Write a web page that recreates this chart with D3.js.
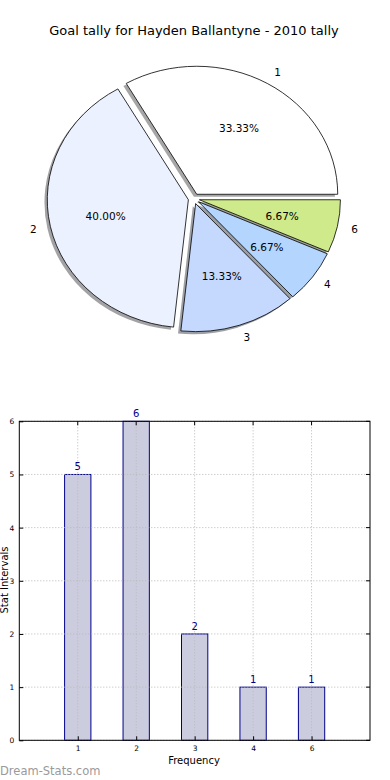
<!DOCTYPE html>
<html><head><meta charset="utf-8">
<script src="https://cdn.jsdelivr.net/npm/d3@7"></script>
<style>body{margin:0;background:#fff}svg{display:block}text{font-family:"DejaVu Sans",sans-serif}</style>
</head><body>
<svg id="c" width="390" height="780"></svg>
<script>
const title = "Goal tally for Hayden Ballantyne - 2010 tally";
const categories = ["1", "2", "3", "4", "6"];
const counts = [5, 6, 2, 1, 1];
const sliceColors = ["#ffffff", "#ebf1fe", "#c5d8fe", "#b3d5fe", "#cfea8a"];
const yTicks = [0, 1, 2, 3, 4, 5, 6];
const xLabel = "Frequency";
const yLabel = "Stat Intervals";
const watermark = "Dream-Stats.com";

const svg = d3.select("#c");
svg.append("rect").attr("width",390).attr("height",780).attr("fill","#fff");

svg.append("text").attr("x",194).attr("y",34.5).attr("text-anchor","middle")
  .attr("font-size",13).attr("fill","#000").text(title);

// ---- Pie ----
const cx = 193.9, cy = 198.7, rx = 141, ry = 128, ex = 0.04;
const total = d3.sum(counts);
const pie = d3.pie().sort(null).startAngle(Math.PI/2).endAngle(Math.PI/2 - 2*Math.PI);
const arcs = pie(counts);
const arc = d3.arc().innerRadius(0).outerRadius(1);
function mid(d){ return (d.startAngle + d.endAngle)/2; }
function center(d){ const a = mid(d); return [cx + ex*rx*Math.sin(a), cy - ex*ry*Math.cos(a)]; }
const pg = svg.append("g");
// shadows
arcs.forEach((d,i)=>{
  const [x,y] = center(d);
  const c = d3.rgb(sliceColors[i]);
  pg.append("path").attr("d", arc(d))
    .attr("transform", `translate(${x-0.02*rx},${y+0.02*ry}) scale(${rx},${ry})`)
    .attr("fill", d3.rgb(c.r*0.3,c.g*0.3,c.b*0.3)).attr("fill-opacity",0.5).attr("stroke","none");
});
arcs.forEach((d,i)=>{
  const [x,y] = center(d);
  pg.append("path").attr("d", arc(d))
    .attr("transform", `translate(${x},${y}) scale(${rx},${ry})`)
    .attr("fill", sliceColors[i]).attr("stroke","#000").attr("stroke-width",0.8)
    .attr("vector-effect","non-scaling-stroke").attr("stroke-linejoin","round");
});
arcs.forEach((d,i)=>{
  const [x,y] = center(d); const a = mid(d);
  const lx = x + 1.1*rx*Math.sin(a), ly = y - 1.1*ry*Math.cos(a);
  pg.append("text").attr("x", lx).attr("y", ly).attr("dy","0.36em")
    .attr("text-anchor", Math.sin(a) > 0 ? "start" : "end")
    .attr("font-size",10.5).text(categories[i]);
  const px = x + 0.6*rx*Math.sin(a), py = y - 0.6*ry*Math.cos(a);
  pg.append("text").attr("x", px).attr("y", py).attr("dy","0.36em")
    .attr("text-anchor","middle").attr("font-size",10.5)
    .text((d.value/total*100).toFixed(2) + "%");
});

// ---- Bar chart ----
const L = 19.3, R = 370, T = 421.3, B = 740.3;
const x = d3.scaleLinear().domain([-1, 5]).range([L, R]);
const y = d3.scaleLinear().domain([0, 6]).range([B, T]);
const bw = 0.45;
const bg = svg.append("g");
bg.selectAll("rect.bar").data(counts).join("rect").attr("class","bar")
  .attr("x",(d,i)=>x(i - bw/2)).attr("width",(d,i)=>x(i+bw/2)-x(i-bw/2))
  .attr("y",d=>y(d)).attr("height",d=>y(0)-y(d))
  .attr("fill","#ccccdf").attr("stroke","#00008b").attr("stroke-width",1);
// grid
const gridColor = "#b8b8b8";
bg.selectAll("line.gx").data(categories).join("line").attr("class","gx")
  .attr("x1",(d,i)=>x(i)).attr("x2",(d,i)=>x(i)).attr("y1",T).attr("y2",B)
  .attr("stroke",gridColor).attr("stroke-width",1).attr("stroke-dasharray","1,2");
bg.selectAll("line.gy").data(yTicks).join("line").attr("class","gy")
  .attr("x1",L).attr("x2",R).attr("y1",d=>y(d)).attr("y2",d=>y(d))
  .attr("stroke",gridColor).attr("stroke-width",1).attr("stroke-dasharray","1,2");
// value labels
bg.selectAll("text.val").data(counts).join("text").attr("class","val")
  .attr("x",(d,i)=>x(i)).attr("y",d=>y(d)-4).attr("text-anchor","middle")
  .attr("font-size",10).attr("fill","#00008b").text(d=>d);
// frame
bg.append("rect").attr("x",L).attr("y",T).attr("width",R-L).attr("height",B-T)
  .attr("fill","none").attr("stroke","#000").attr("stroke-width",1);
// axes
const xAxis = d3.axisBottom(x).tickValues(d3.range(categories.length))
  .tickFormat(i=>categories[i]).tickSizeInner(-4).tickSizeOuter(0).tickPadding(5);
const gx = bg.append("g").attr("transform",`translate(0,${B})`).call(xAxis);
const yAxis = d3.axisLeft(y).tickValues(yTicks).tickFormat(d3.format("d"))
  .tickSizeInner(-4).tickSizeOuter(0).tickPadding(5);
const gy = bg.append("g").attr("transform",`translate(${L},0)`).call(yAxis);
[gx, gy].forEach(g=>{
  g.select(".domain").remove();
  g.selectAll("text").attr("font-size",7.5).attr("fill","#000").attr("font-family","DejaVu Sans");
  g.selectAll("line").attr("stroke","#000");
});
// top/right ticks
bg.selectAll("line.tt").data(d3.range(categories.length)).join("line")
  .attr("x1",i=>x(i)).attr("x2",i=>x(i)).attr("y1",T).attr("y2",T+4).attr("stroke","#000");
bg.selectAll("line.rt").data(yTicks).join("line")
  .attr("x1",R).attr("x2",R-4).attr("y1",d=>y(d)).attr("y2",d=>y(d)).attr("stroke","#000");

svg.append("text").attr("x",194).attr("y",763.5).attr("text-anchor","middle")
  .attr("font-size",10).text(xLabel);
svg.append("text").attr("transform",`translate(8,580) rotate(-90)`).attr("text-anchor","middle")
  .attr("font-size",10).text(yLabel);
svg.append("text").attr("x",0).attr("y",775).attr("font-size",11.5)
  .attr("fill","#9a9a9a").text(watermark);
</script>
</body></html>
